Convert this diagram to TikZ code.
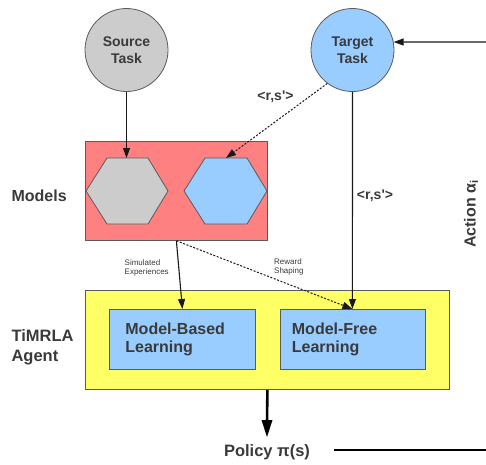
\documentclass[tikz,border=0pt]{standalone}
\usepackage{fontspec}
\setmainfont{Liberation Sans}
\usetikzlibrary{arrows.meta}
\definecolor{txt}{HTML}{3A3A3A}
\definecolor{edge}{HTML}{5A5A5A}
\definecolor{srcgray}{HTML}{CCCCCC}
\definecolor{tgtblue}{HTML}{99CCFF}
\definecolor{modred}{HTML}{FF8080}
\definecolor{agentyel}{HTML}{FFFF66}
\tikzset{
  task/.style={circle, draw=edge, line width=0.8pt, minimum size=83pt, inner sep=0pt,
    align=center, text=txt, font=\bfseries\fontsize{14}{17}\selectfont},
  panel/.style={draw=edge, line width=0.8pt, anchor=north west, inner sep=0pt},
  learnbox/.style={draw=edge, line width=0.8pt, fill=tgtblue, anchor=north west,
    minimum height=60pt, align=left, text=txt, font=\bfseries\fontsize{16}{18}\selectfont},
  hexa/.style={draw=edge, line width=0.8pt},
  biglabel/.style={text=txt, font=\bfseries\fontsize{16}{20}\selectfont, align=left},
  smalllabel/.style={text=txt, font=\fontsize{8}{9}\selectfont, align=left, inner sep=0pt},
  edgelabel/.style={text=txt, font=\bfseries\fontsize{14}{16}\selectfont, inner sep=0pt},
  link/.style={draw=black!90, line width=1.1pt, -{Triangle[length=10pt,width=7pt]}},
  dlink/.style={link, line width=1pt, dash pattern=on 2pt off 1.6pt},
  bigshaft/.style={draw=black, line width=2.6pt},
}
\begin{document}
\begin{tikzpicture}[x=1pt,y=-1pt]
\useasboundingbox (0,0) rectangle (486,464);

% tasks
\node[task, fill=srcgray] (src) at (126.5,50) {Source\\Task};
\node[task, fill=tgtblue] (tgt) at (352.5,50) {Target\\Task};

% models panel with its two hexagons
\node[panel, fill=modred, minimum width=182pt, minimum height=99pt] (models) at (85,141) {};
\draw[hexa, fill=srcgray] (86,191) -- (107,158) -- (148,158) -- (168,191) -- (148,224) -- (107,224) -- cycle;
\draw[hexa, fill=tgtblue] (184,191) -- (205,158) -- (247,158) -- (267,191) -- (247,224) -- (205,224) -- cycle;
\coordinate (hexS) at (126.5,158);
\coordinate (hexT) at (226,158);

% agent panel
\node[panel, fill=agentyel, minimum width=364pt, minimum height=99pt] (agent) at (85,290) {};
\node[learnbox, minimum width=146pt, text width=114pt, inner xsep=16pt] (mb) at (109,309) {Model-Based\\Learning};
\node[learnbox, minimum width=145pt, text width=121pt, inner xsep=12pt] (mf) at (279.5,309)
  {\raisebox{2pt}{Model-Free}\\\raisebox{2pt}{Learning}};

% side labels
\node[biglabel, anchor=west] (modlbl) at (8,196) {Models};
\node[biglabel, anchor=west, font=\bfseries\fontsize{16.5}{20}\selectfont] (agentlbl) at (8,347) {TiMRLA\\Agent};
\node[biglabel, rotate=90] (action) at (471,214) {Action α\textsubscript{i}};
\node[biglabel, font=\bfseries\fontsize{16.5}{20}\selectfont] (policy) at (267,452) {Policy π(s)};

% flow labels
\node[edgelabel] (rs1) at (275.5,97) {<r,s\textquotesingle>};
\node[edgelabel] (rs2) at (375,196) {<r,s\textquotesingle>};
\node[smalllabel, anchor=west] (simlbl) at (124.5,268) {Simulated\\Experiences};
\node[smalllabel, anchor=west] (rewlbl) at (274,267) {Reward\\Shaping};

% connectors
\coordinate (actin) at (486,42);
\coordinate (poltip) at (267,437);
\coordinate (polend) at (334,450);
\coordinate (polout) at (486,450);
\draw[link] (actin) -- (tgt.11);
\draw[link] (src.south) -- (hexS);
\draw[dlink] (tgt.233) -- (hexT);
\draw[link] (tgt.south) -- (mf.north);
\draw[link] (models.south) -- (mb.north);
\draw[dlink] (models.south) -- (mf.north);
% heavy output arrow: shaft plus a filled head ending at the policy label
\draw[bigshaft] (agent.south) -- ([yshift=14pt]poltip);
\fill[black] (poltip) -- ++(-5.5,-17) -- ++(11,0) -- cycle;
\draw[line width=1.1pt] (polend) -- (polout);
\end{tikzpicture}
\end{document}
